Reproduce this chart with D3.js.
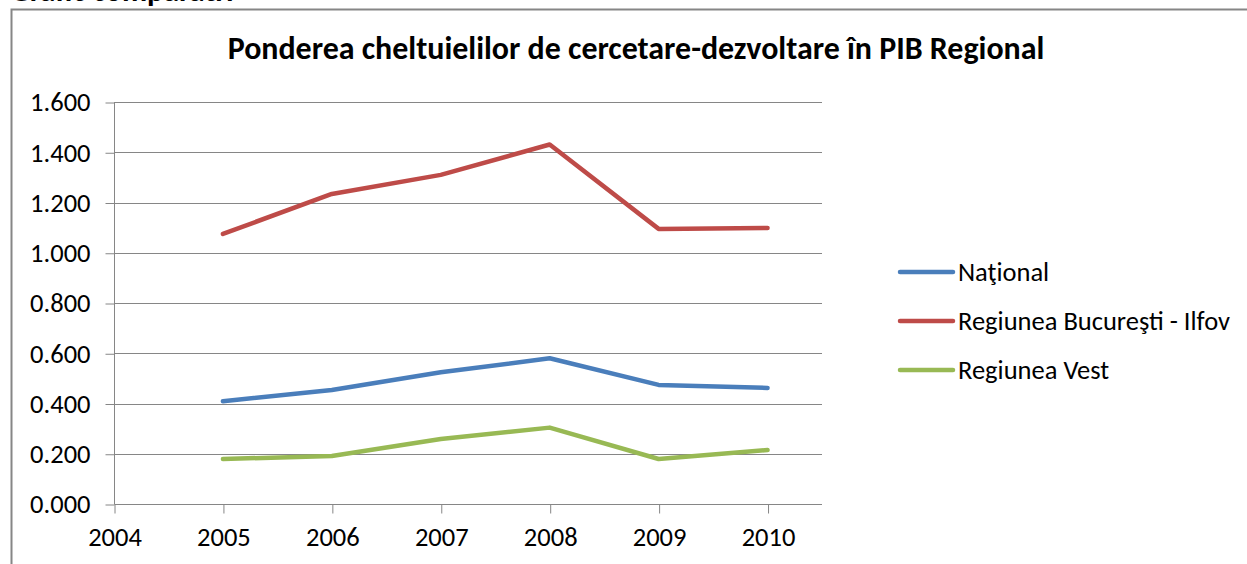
<!DOCTYPE html>
<html>
<head>
<meta charset="utf-8">
<script src="https://cdn.jsdelivr.net/npm/d3@7"></script>
<style>
    body { margin: 0; background: white; }
    svg { display: block; }
    text { font-family: Carlito, "Open Sans", "Noto Sans", sans-serif; fill: #000; }
</style>
</head>
<body>
<div id="chart"></div>
<script>
// chart data
const years = [2005, 2006, 2007, 2008, 2009, 2010];
const seriesNames = ['Naţional', 'Regiunea Bucureşti - Ilfov', 'Regiunea Vest'];
const national = [0.409, 0.454, 0.524, 0.580, 0.474, 0.462];
const bucuresti = [1.075, 1.234, 1.310, 1.431, 1.095, 1.099];
const vest = [0.179, 0.191, 0.259, 0.304, 0.179, 0.215];
const seriesColors = ['#4A7EBB', '#BE4B48', '#98B954'];
const yTicks = [0, 0.2, 0.4, 0.6, 0.8, 1.0, 1.2, 1.4, 1.6];
const xTicks = [2004, 2005, 2006, 2007, 2008, 2009, 2010];

const width = 1247;
const height = 564;
const plot = { left: 114, right: 822, top: 102, bottom: 504 };
const labelSize = '26.5px';

const svg = d3.select('#chart')
    .append('svg')
    .attr('width', width)
    .attr('height', height);

// heading above the chart, mostly cut off at the top edge
svg.append('text')
    .attr('x', 10)
    .attr('y', 0.5)
    .style('font-size', '31px')
    .style('font-weight', 'bold')
    .text('Grafic comparativ');

// chart frame
svg.append('rect')
    .attr('x', 11.5)
    .attr('y', 9.5)
    .attr('width', 1260)
    .attr('height', 600)
    .style('fill', 'white')
    .style('stroke', '#868686')
    .style('stroke-width', 2);

// fit title to the reference width
const title = svg.append('text')
    .attr('x', 636)
    .attr('y', 59)
    .attr('text-anchor', 'middle')
    .style('font-weight', 'bold')
    .style('font-size', '22px')
    .text('Ponderea cheltuielilor de cercetare-dezvoltare în PIB Regional');
const tw = title.node().getComputedTextLength();
title.style('font-size', (22 * 817 / tw) + 'px');

const x = d3.scaleLinear()
    .domain([2004, 2010.5])
    .range([plot.left, plot.right]);

const y = d3.scaleLinear()
    .domain([0, 1.6])
    .range([plot.bottom, plot.top]);

const fmt = d3.format('.3f');

// gridlines
svg.append('g')
    .selectAll('line')
    .data(yTicks.slice(1))
    .join('line')
    .attr('x1', plot.left)
    .attr('x2', plot.right)
    .attr('y1', d => Math.round(y(d)) + 0.5)
    .attr('y2', d => Math.round(y(d)) + 0.5)
    .style('stroke', '#868686')
    .style('stroke-width', 1);

// y axis
const yAxis = svg.append('g')
    .attr('transform', `translate(${plot.left + 0.5},0.5)`)
    .call(d3.axisLeft(y).tickValues(yTicks).tickFormat(fmt).tickSize(9).tickPadding(15));

// x axis
const xAxis = svg.append('g')
    .attr('transform', `translate(0.5,${plot.bottom + 0.5})`)
    .call(d3.axisBottom(x).tickValues(xTicks).tickFormat(d3.format('d')).tickSize(9).tickPadding(14));

[yAxis, xAxis].forEach(a => {
    a.select('.domain').style('stroke', '#868686');
    a.selectAll('.tick line').style('stroke', '#868686');
    a.selectAll('.tick text')
        .style('font-family', 'Carlito, "Open Sans", "Noto Sans", sans-serif')
        .style('font-size', labelSize)
        .style('fill', '#000');
});
// x axis line runs to the plot's right end, no end caps
xAxis.select('.domain').attr('d', `M${plot.left},0H${plot.right - 0.5}`);
yAxis.select('.domain').attr('d', `M0,${plot.bottom}V${plot.top}`);

// lines
const allSeries = [national, bucuresti, vest];
const line = d3.line()
    .x((d, i) => x(years[i]))
    .y(d => y(d));

svg.append('g')
    .selectAll('path')
    .data(allSeries)
    .join('path')
    .attr('d', d => line(d))
    .style('fill', 'none')
    .style('stroke', (d, i) => seriesColors[i])
    .style('stroke-width', 4.5)
    .style('stroke-linejoin', 'round')
    .style('stroke-linecap', 'round');

// legend
const legend = svg.append('g')
    .selectAll('g')
    .data(seriesNames)
    .join('g')
    .attr('transform', (d, i) => `translate(900,${272 + i * 49})`);

legend.append('line')
    .attr('x1', 0)
    .attr('x2', 53)
    .style('stroke', (d, i) => seriesColors[i])
    .style('stroke-width', 4.5)
    .style('stroke-linecap', 'round');

legend.append('text')
    .attr('x', 58)
    .attr('y', 0)
    .attr('dy', '0.35em')
    .style('font-size', labelSize)
    .text(d => d);
</script>
</body>
</html>
